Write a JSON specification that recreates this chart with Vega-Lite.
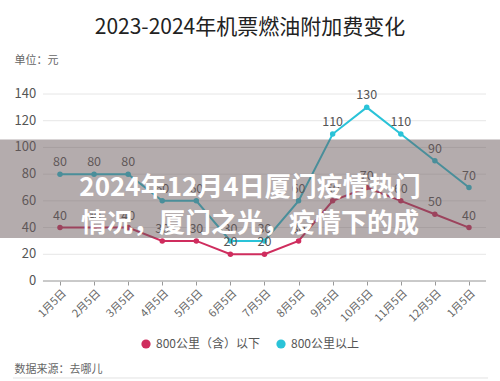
{
  "$schema": "https://vega.github.io/schema/vega-lite/v6.json",
  "width": 500,
  "height": 187,
  "autosize": {"type": "none"},
  "padding": {"left": 0, "top": 94, "right": 0, "bottom": 100},
  "background": "white",
  "title": {"text": "2023-2024年机票燃油附加费变化", "anchor": "middle", "frame": "group", "fontSize": 21, "fontWeight": "normal", "color": "#222222", "font": "Noto Sans CJK SC", "offset": 16},
  "config": {"view": {"stroke": null}, "font": "Noto Sans CJK SC"},
  "datasets": {
    "fuel": [
      {"idx": 0, "label": "1月5日", "series": "800公里（含）以下", "fee": 40},
      {"idx": 1, "label": "2月5日", "series": "800公里（含）以下", "fee": 40},
      {"idx": 2, "label": "3月5日", "series": "800公里（含）以下", "fee": 40},
      {"idx": 3, "label": "4月5日", "series": "800公里（含）以下", "fee": 30},
      {"idx": 4, "label": "5月5日", "series": "800公里（含）以下", "fee": 30},
      {"idx": 5, "label": "6月5日", "series": "800公里（含）以下", "fee": 20},
      {"idx": 6, "label": "7月5日", "series": "800公里（含）以下", "fee": 20},
      {"idx": 7, "label": "8月5日", "series": "800公里（含）以下", "fee": 30},
      {"idx": 8, "label": "9月5日", "series": "800公里（含）以下", "fee": 60},
      {"idx": 9, "label": "10月5日", "series": "800公里（含）以下", "fee": 70},
      {"idx": 10, "label": "11月5日", "series": "800公里（含）以下", "fee": 60},
      {"idx": 11, "label": "12月5日", "series": "800公里（含）以下", "fee": 50},
      {"idx": 12, "label": "1月5日", "series": "800公里（含）以下", "fee": 40},
      {"idx": 0, "label": "1月5日", "series": "800公里以上", "fee": 80},
      {"idx": 1, "label": "2月5日", "series": "800公里以上", "fee": 80},
      {"idx": 2, "label": "3月5日", "series": "800公里以上", "fee": 80},
      {"idx": 3, "label": "4月5日", "series": "800公里以上", "fee": 60},
      {"idx": 4, "label": "5月5日", "series": "800公里以上", "fee": 60},
      {"idx": 5, "label": "6月5日", "series": "800公里以上", "fee": 30},
      {"idx": 6, "label": "7月5日", "series": "800公里以上", "fee": 30},
      {"idx": 7, "label": "8月5日", "series": "800公里以上", "fee": 60},
      {"idx": 8, "label": "9月5日", "series": "800公里以上", "fee": 110},
      {"idx": 9, "label": "10月5日", "series": "800公里以上", "fee": 130},
      {"idx": 10, "label": "11月5日", "series": "800公里以上", "fee": 110},
      {"idx": 11, "label": "12月5日", "series": "800公里以上", "fee": 90},
      {"idx": 12, "label": "1月5日", "series": "800公里以上", "fee": 70}
    ],
    "yticks": [{"v": 0}, {"v": 20}, {"v": 40}, {"v": 60}, {"v": 80}, {"v": 100}, {"v": 120}, {"v": 140}],
    "one": [{"v": 0}]
  },
  "layer": [
    {
      "data": {"name": "yticks"},
      "mark": {"type": "rule", "color": "#e6e6e6", "strokeWidth": 1},
      "encoding": {
        "y": {"field": "v", "type": "quantitative", "scale": {"domain": [0, 140], "nice": false}},
        "x": {"datum": -0.5, "type": "quantitative", "scale": {"domain": [-1.76, 12.91], "nice": false, "zero": false}},
        "x2": {"datum": 12.5}
      }
    },
    {
      "data": {"name": "yticks"},
      "mark": {"type": "text", "align": "right", "baseline": "middle", "fontSize": 13, "color": "#555555", "font": "Noto Sans CJK SC"},
      "encoding": {
        "y": {"field": "v", "type": "quantitative", "scale": {"domain": [0, 140], "nice": false}},
        "x": {"datum": -0.7, "type": "quantitative", "scale": {"domain": [-1.76, 12.91], "nice": false, "zero": false}},
        "text": {"field": "v", "type": "quantitative"}
      }
    },
    {
      "data": {"name": "one"},
      "mark": {"type": "rule", "color": "#a0a0a0", "strokeWidth": 1},
      "encoding": {
        "y": {"field": "v", "type": "quantitative", "scale": {"domain": [0, 140], "nice": false}},
        "x": {"datum": -0.5, "type": "quantitative", "scale": {"domain": [-1.76, 12.91], "nice": false, "zero": false}},
        "x2": {"datum": 12.5}
      }
    },
    {
      "data": {"name": "one"},
      "mark": {"type": "rule", "color": "#e2e2e2", "strokeWidth": 1, "clip": false},
      "encoding": {
        "y": {"datum": -72.6, "type": "quantitative", "scale": {"domain": [0, 140], "nice": false}},
        "x": {"datum": -1.38, "type": "quantitative", "scale": {"domain": [-1.76, 12.91], "nice": false, "zero": false}},
        "x2": {"datum": 12.56}
      }
    },
    {
      "data": {"name": "fuel"},
      "mark": {"type": "line", "strokeWidth": 2, "point": {"filled": true, "size": 30}},
      "encoding": {
        "x": {"field": "idx", "type": "quantitative", "scale": {"domain": [-1.76, 12.91], "nice": false, "zero": false},
          "axis": {"values": [0,1,2,3,4,5,6,7,8,9,10,11,12], "labelExpr": "['1月5日','2月5日','3月5日','4月5日','5月5日','6月5日','7月5日','8月5日','9月5日','10月5日','11月5日','12月5日','1月5日'][datum.value]",
            "labelAngle": -45, "labelOverlap": false, "labelFontSize": 11, "labelColor": "#666666", "labelFont": "Noto Sans CJK SC", "grid": false, "domain": false, "ticks": true, "tickSize": 4, "tickColor": "#999999", "labelPadding": 2,
            "title": "数据来源：去哪儿", "titleX": 14, "titleY": 88, "titleAlign": "left", "titleAnchor": "start", "titleBaseline": "middle", "titleFontSize": 11, "titleFontWeight": "normal", "titleColor": "#666666", "titleFont": "Noto Sans CJK SC"}},
        "y": {"field": "fee", "type": "quantitative", "scale": {"domain": [0, 140], "nice": false},
          "axis": {"orient": "left", "offset": -36, "labels": false, "grid": false, "domain": false, "ticks": false, "tickSize": 0, "labelPadding": 0,
            "title": "单位：元", "titleAngle": 0, "titleAlign": "left", "titleBaseline": "middle", "titleX": -22, "titleY": -34, "titleFontSize": 11, "titleFontWeight": "normal", "titleColor": "#666666", "titleFont": "Noto Sans CJK SC"}},
        "color": {"field": "series", "type": "nominal",
          "scale": {"domain": ["800公里（含）以下", "800公里以上"], "range": ["#cf2d5e", "#2ac3d8"]},
          "legend": {"title": null, "orient": "none", "legendX": 140, "legendY": 244, "direction": "horizontal", "symbolType": "circle", "symbolSize": 85, "symbolStrokeWidth": 0, "labelFontSize": 12, "labelColor": "#555555", "labelFont": "Noto Sans CJK SC", "columnPadding": 15,
            "encode": {"symbols": {"update": {"fill": {"scale": "color", "field": "value"}, "fillOpacity": {"value": 1}}}}}}
      }
    },
    {
      "data": {"name": "fuel"},
      "mark": {"type": "text", "dy": -12, "fontSize": 12.5, "color": "#555555", "font": "Noto Sans CJK SC"},
      "encoding": {
        "x": {"field": "idx", "type": "quantitative", "scale": {"domain": [-1.76, 12.91], "nice": false, "zero": false}},
        "y": {"field": "fee", "type": "quantitative", "scale": {"domain": [0, 140], "nice": false}},
        "text": {"field": "fee", "type": "quantitative"}
      }
    },
    {
      "data": {"name": "one"},
      "mark": {"type": "rect", "color": "#6a5a5c", "opacity": 0.5},
      "encoding": {
        "y": {"datum": 106, "type": "quantitative", "scale": {"domain": [0, 140], "nice": false}},
        "y2": {"datum": 32.2}
      }
    },
    {
      "data": {"name": "one"},
      "mark": {"type": "text", "text": ["2024年12月4日厦门疫情热门", "情况，厦门之光，疫情下的成"], "fontSize": 26, "fontWeight": "bold", "color": "white", "lineHeight": 36, "baseline": "middle", "align": "center", "font": "Noto Sans CJK SC"},
      "encoding": {
        "y": {"datum": 70, "type": "quantitative", "scale": {"domain": [0, 140], "nice": false}}
      }
    }
  ]
}
